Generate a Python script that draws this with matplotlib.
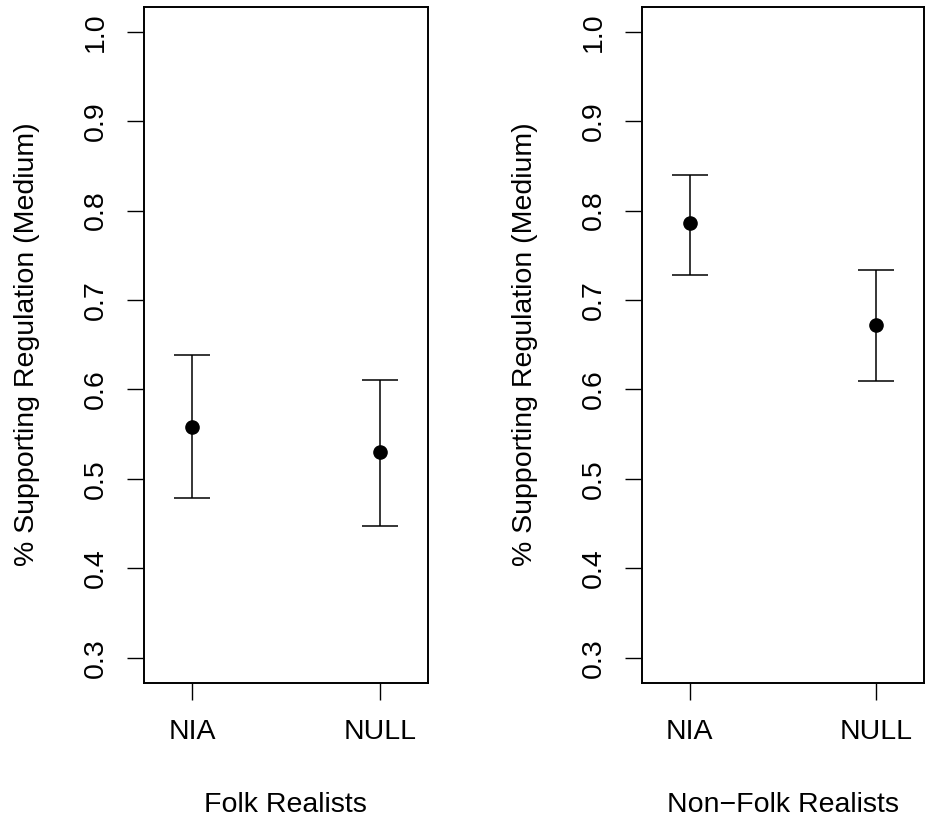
import matplotlib
matplotlib.use("Agg")
import matplotlib.pyplot as plt

plt.rcParams['font.family'] = ['Liberation Sans', 'DejaVu Sans']

conditions = ["NIA", "NULL"]
panels = ["Folk Realists", "Non\u2212Folk Realists"]
means = [[0.558, 0.530], [0.786, 0.672]]
lower = [[0.478, 0.447], [0.728, 0.609]]
upper = [[0.639, 0.610], [0.840, 0.734]]
yticks = [0.3, 0.4, 0.5, 0.6, 0.7, 0.8, 0.9, 1.0]

fig = plt.figure(figsize=(9.25, 8.25), dpi=100)
positions = [[0.1557, 0.1725, 0.3067, 0.8194], [0.6937, 0.1725, 0.3055, 0.8194]]

fs = 20.5
for i, name in enumerate(panels):
    ax = fig.add_axes(positions[i])
    x = [1, 2]
    yerr = [[m - l for m, l in zip(means[i], lower[i])],
            [u - m for m, u in zip(means[i], upper[i])]]
    ax.errorbar(x, means[i], yerr=yerr, fmt='o', color='black', ms=9.5,
                capsize=12.7, elinewidth=1.1, capthick=1.1)
    ax.set_xlim(0.8 - 0.056, 2.2 + 0.056)
    ax.set_ylim(0.3 - 0.028, 1.0 + 0.028)
    ax.set_xticks(x)
    ax.set_xticklabels(conditions, fontsize=fs)
    ax.set_yticks(yticks)
    ax.set_yticklabels(["%.1f" % v for v in yticks], fontsize=fs,
                       rotation=90, va='center')
    ax.tick_params(axis='both', length=12.5, width=1.0, direction='out')
    ax.tick_params(axis='x', pad=14)
    ax.tick_params(axis='y', pad=12.5)
    for s in ax.spines.values():
        s.set_linewidth(1.4)
    ax.set_xlabel(name, fontsize=fs)
    ax.xaxis.label.set_va('baseline')
    ax.xaxis.set_label_coords(0.5, -0.191)
    ax.set_ylabel("% Supporting Regulation (Medium)", fontsize=fs)
    ax.yaxis.label.set_va('baseline')
    ax.yaxis.set_label_coords(-0.3895, 0.5)

fig.savefig("out.png", dpi=100)
